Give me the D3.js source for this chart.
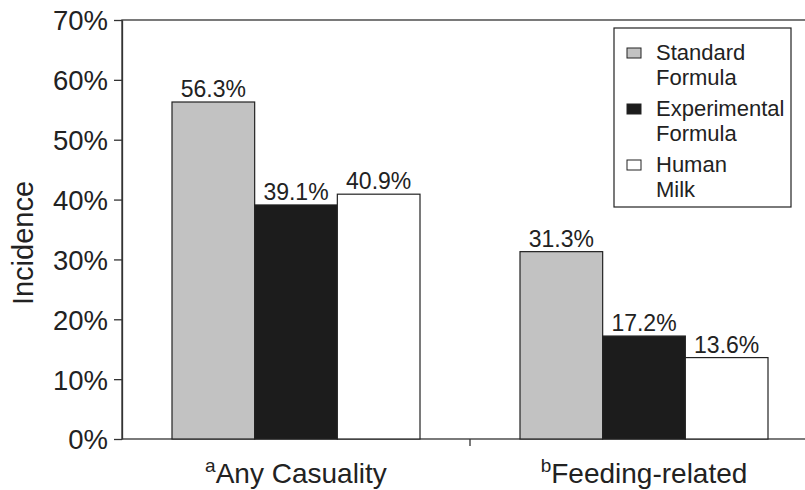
<!DOCTYPE html>
<html><head><meta charset="utf-8">
<script src="https://cdn.jsdelivr.net/npm/d3@7"></script>
<style>
body{margin:0;background:#fff;}
text{font-family:"Liberation Sans",Arial,sans-serif;fill:#222;}
</style></head>
<body><svg id="c" width="805" height="490"></svg>
<script>
const categories = ["Any Casuality", "Feeding-related"];
const catMarks = ["a", "b"];
const seriesNames = ["Standard Formula", "Experimental Formula", "Human Milk"];
const standardFormula = [56.3, 31.3];
const experimentalFormula = [39.1, 17.2];
const humanMilk = [40.9, 13.6];
const yTicks = [0, 10, 20, 30, 40, 50, 60, 70];
const legendLines = [["Standard", "Formula"], ["Experimental", "Formula"], ["Human", "Milk"]];
const colors = ["#c2c2c2", "#1c1c1c", "#ffffff"];

const svg = d3.select("#c");
const mLeft = 122, mRight = 818, mTop = 20, mBottom = 439;
const y = d3.scaleLinear().domain([0, 70]).range([mBottom, mTop]);
const x0 = d3.scaleBand().domain(categories).range([mLeft, mRight]).paddingInner(0).paddingOuter(0);
const x1 = d3.scaleBand().domain(seriesNames).range([50, 298]);
const series = [standardFormula, experimentalFormula, humanMilk];

// frame
svg.append("rect").attr("x", mLeft).attr("y", mTop).attr("width", mRight - mLeft).attr("height", mBottom - mTop)
  .attr("fill", "none").attr("stroke", "#333").attr("stroke-width", 1.3);

// y axis
const yAxis = d3.axisLeft(y).tickValues(yTicks).tickFormat(d => d + "%").tickSize(8).tickSizeOuter(0);
const ya = svg.append("g").attr("transform", `translate(${mLeft},0)`).call(yAxis);
ya.select(".domain").attr("stroke", "#333").attr("stroke-width", 1.3);
ya.selectAll(".tick line").attr("stroke", "#333").attr("stroke-width", 1.3);
ya.selectAll(".tick text").attr("font-size", 27.5).attr("x", -14).attr("dy", "0.36em")
  .style("font-family", "'Liberation Sans',Arial,sans-serif").attr("fill", "#222");

// x axis ticks (band boundaries)
const xa = svg.append("g").attr("transform", `translate(0,${mBottom})`);
xa.append("line").attr("x1", x0(categories[1])).attr("x2", x0(categories[1])).attr("y1", 0).attr("y2", 7)
  .attr("stroke", "#333").attr("stroke-width", 1.3);

// bars
categories.forEach((c, i) => {
  const g = svg.append("g").attr("transform", `translate(${x0(c)},0)`);
  g.selectAll("rect").data(seriesNames.map((s, k) => ({s, v: series[k][i], k})))
    .join("rect")
    .attr("x", d => x1(d.s)).attr("width", x1.bandwidth())
    .attr("y", d => y(d.v)).attr("height", d => y(0) - y(d.v))
    .attr("fill", d => colors[d.k]).attr("stroke", "#222").attr("stroke-width", 1.2);
  g.selectAll("text.v").data(seriesNames.map((s, k) => ({s, v: series[k][i]})))
    .join("text").attr("class", "v")
    .attr("x", d => x1(d.s) + x1.bandwidth() / 2).attr("y", d => y(d.v) - 5)
    .attr("text-anchor", "middle").attr("font-size", 23)
    .text(d => d.v.toFixed(1) + "%");
  const t = svg.append("text").attr("x", x0(c) + x0.bandwidth() / 2).attr("y", 483)
    .attr("text-anchor", "middle").attr("font-size", 28);
  t.append("tspan").attr("font-size", 19).attr("dy", -11).text(catMarks[i]);
  t.append("tspan").attr("dy", 11).text(c);
});

// y title
svg.append("text").attr("transform", "translate(33,243) rotate(-90)").attr("text-anchor", "middle")
  .attr("font-size", 29).text("Incidence");

// legend
const lg = svg.append("g");
lg.append("rect").attr("x", 614).attr("y", 28).attr("width", 177).attr("height", 179)
  .attr("fill", "#fff").attr("stroke", "#222").attr("stroke-width", 1.2);
legendLines.forEach((lines, k) => {
  const by = 60 + k * 56;
  lg.append("rect").attr("x", 627).attr("y", by - 12).attr("width", 14).attr("height", 10)
    .attr("fill", colors[k]).attr("stroke", "#222").attr("stroke-width", 1);
  lines.forEach((ln, j) => {
    lg.append("text").attr("x", 656).attr("y", by + j * 25).attr("font-size", 22).text(ln);
  });
});
</script></body></html>
